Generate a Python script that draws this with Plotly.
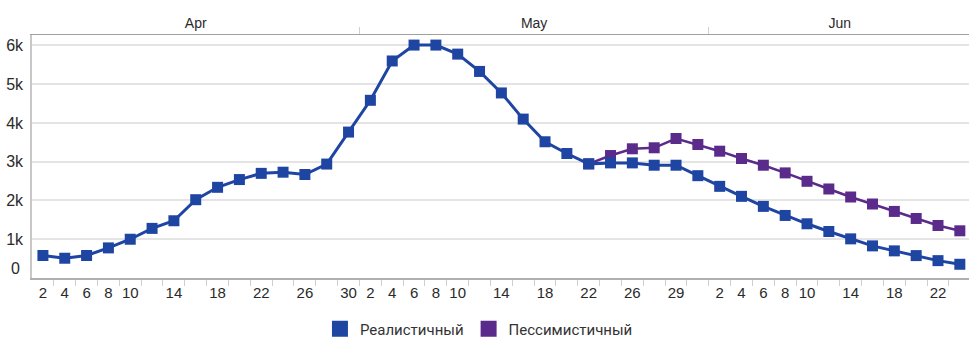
import plotly.graph_objects as go

# ---- data ----
months = (["Apr"] * 15) + (["May"] * 16) + (["Jun"] * 12)
days = [2, 4, 6, 8, 10, 12, 14, 16, 18, 20, 22, 24, 26, 28, 30,
        2, 4, 6, 8, 10, 12, 14, 16, 18, 20, 22, 24, 26, 27, 29, 31,
        2, 4, 6, 8, 10, 12, 14, 16, 18, 20, 22, 24]
shown_labels = [True, True, True, True, True, False, True, False, True, False, True, False, True, False, True,
                True, True, True, True, True, False, True, False, True, False, True, False, True, False, True, False,
                True, True, True, True, True, False, True, False, True, False, True, False]
realistic = [580, 510, 580, 777, 1000, 1280, 1477, 2020, 2340, 2540, 2700, 2730, 2670, 2940, 3765,
             4585, 5600, 6010, 6010, 5777, 5330, 4775, 4100, 3515, 3212, 2945, 2970, 2970, 2910, 2910, 2640,
             2365, 2107, 1848, 1614, 1399, 1200, 1010, 829, 700, 578, 448, 354]
pessimistic = [None] * 25 + [2945, 3160, 3334, 3360, 3600, 3445,
                             3272, 3083, 2910, 2712, 2495, 2297, 2090, 1909, 1718, 1536, 1355, 1218]
y_ticks = [0, 1000, 2000, 3000, 4000, 5000, 6000]
y_ticktext = ["", "1k", "2k", "3k", "4k", "5k", "6k"]
series_names = ["Реалистичный", "Пессимистичный"]

BLUE = "#1f45a3"
PURPLE = "#5a2b8a"
FONT = "Liberation Sans, Arial, sans-serif"

idx = list(range(len(days)))
tickvals = [i for i in idx if shown_labels[i]]
ticktext = [str(days[i]) for i in idx if shown_labels[i]]
boundaries = [i + 0.5 for i in idx[:-1]]

# month groups for top axis
month_order = []
for m in months:
    if m not in month_order:
        month_order.append(m)
month_centers, month_bounds = [], []
for m in month_order:
    ids = [i for i in idx if months[i] == m]
    month_centers.append((ids[0] - 0.5 + ids[-1] + 0.5) / 2)
    if ids[-1] != idx[-1]:
        month_bounds.append(ids[-1] + 0.5)

fig = go.Figure()
fig.add_trace(go.Scatter(x=idx, y=pessimistic, mode="lines+markers", name=series_names[1],
                         line=dict(color=PURPLE, width=2.5), marker=dict(symbol="square", size=11, color=PURPLE),
                         showlegend=False))
fig.add_trace(go.Scatter(x=idx, y=realistic, mode="lines+markers", name=series_names[0],
                         line=dict(color=BLUE, width=3), marker=dict(symbol="square", size=11, color=BLUE),
                         showlegend=False))
# legend-only entries (squares)
fig.add_trace(go.Scatter(x=[None], y=[None], mode="markers", name=series_names[0], xaxis="x2",
                         marker=dict(symbol="square", size=16, color=BLUE)))
fig.add_trace(go.Scatter(x=[None], y=[None], mode="markers", name=series_names[1], xaxis="x2",
                         marker=dict(symbol="square", size=16, color=PURPLE)))

xr = [-0.5, 42.42]
fig.update_layout(
    width=969, height=347,
    margin=dict(l=32, r=0, t=35, b=69),
    paper_bgcolor="white", plot_bgcolor="white",
    font=dict(family=FONT, size=14, color="#333333"),
    xaxis=dict(range=xr, tickvals=tickvals, ticktext=ticktext, showgrid=False, zeroline=False,
               showline=True, linecolor="#b0b0b0", linewidth=1.5, ticks="",
               tickfont=dict(size=15, color="#2a2a2a"),
               minor=dict(tickvals=boundaries, ticks="outside", ticklen=6, tickcolor="#cfcfcf", showgrid=False)),
    xaxis2=dict(range=xr, overlaying="x", side="top", tickvals=month_centers, ticktext=month_order,
                showgrid=False, zeroline=False, showline=True, linecolor="#a0a0a0", linewidth=1.2, ticks="",
                tickfont=dict(size=14, color="#2a2a2a"),
                minor=dict(tickvals=month_bounds, ticks="outside", ticklen=7, tickcolor="#d0d0d0", showgrid=False)),
    yaxis=dict(range=[0, 6270], tickvals=y_ticks, ticktext=y_ticktext, showgrid=True, gridcolor="#e4e4e4",
               gridwidth=1.5, zeroline=False, showline=True, linecolor="#c8c8c8", linewidth=1.5, ticks="",
               ticklabelstandoff=4, tickfont=dict(size=16, color="#2a2a2a")),
    legend=dict(orientation="h", x=0.477, xanchor="center", y=-0.21, yanchor="middle",
                font=dict(family="Roboto, sans-serif", size=15, color="#333333"),
                itemwidth=30, tracegroupgap=0, bgcolor="rgba(0,0,0,0)"),
    showlegend=True,
)
fig.add_annotation(x=0, xref="paper", y=0, yref="y", text="0", showarrow=False, xanchor="right",
                   xshift=-10, yshift=10, font=dict(family=FONT, size=16, color="#2a2a2a"))

fig.write_html("out.html")
